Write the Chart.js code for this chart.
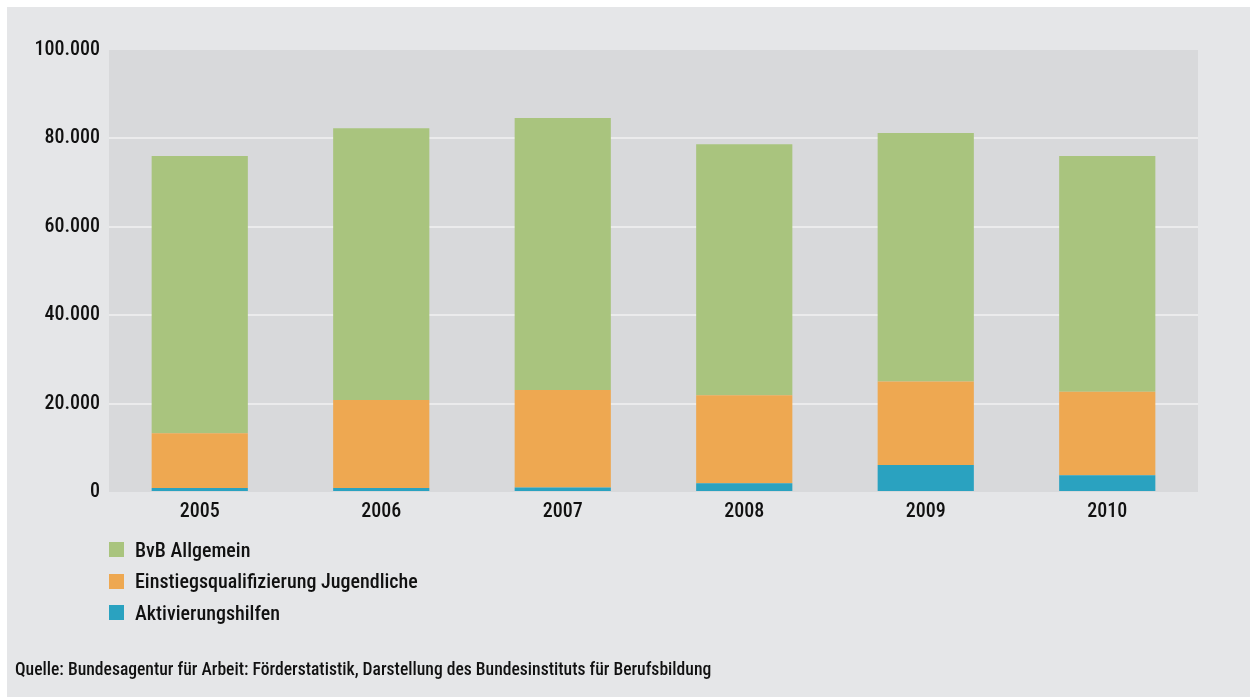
<!DOCTYPE html>
<html><head><meta charset="utf-8">
<script src="https://cdn.jsdelivr.net/npm/chart.js@4.4.1/dist/chart.umd.min.js"></script>
<style>
html,body{margin:0;padding:0;background:#fff;width:1250px;height:697px;overflow:hidden}
#panel{position:absolute;left:7px;top:7px;width:1243px;height:690px;background:#e5e6e8}
#wrap{position:absolute;left:0;top:0;width:1250px;height:697px}
.font{font-family:"Roboto Condensed","Open Sans",sans-serif;font-weight:500;color:#111}
#legend{position:absolute;left:109px;top:534px}
#legend .row{height:31.5px;display:flex;align-items:center;font-size:20px}
#legend .sw{width:15px;height:15px;margin-right:11px}
#source{position:absolute;left:15px;top:659px;font-size:17.6px}
</style></head>
<body>
<div id="panel"></div>
<div id="wrap"><canvas id="c" width="1250" height="697"></canvas></div>
<div id="legend" class="font"></div>
<div id="source" class="font">Quelle: Bundesagentur für Arbeit: Förderstatistik, Darstellung des Bundesinstituts für Berufsbildung</div>
<script>
const categories = ["2005","2006","2007","2008","2009","2010"];
const aktivierungshilfen = [900, 900, 1000, 2000, 6100, 3800];
const einstiegsqualifizierung = [12400, 19900, 22100, 19900, 18900, 18900];
const bvbAllgemein = [62700, 61500, 61500, 56800, 56200, 53300];
const seriesNames = ["BvB Allgemein","Einstiegsqualifizierung Jugendliche","Aktivierungshilfen"];
const yTicks = [0, 20000, 40000, 60000, 80000, 100000];

const colors = {bvb:"#a9c47e", eq:"#eea851", ak:"#2aa2c0"};
const FONT = '"Roboto Condensed","Open Sans",sans-serif';

const bgPlugin = {
  id:"plotbg",
  beforeDraw(chart){
    const {ctx, chartArea:a} = chart;
    ctx.save(); ctx.fillStyle="#d8d9db";
    ctx.fillRect(a.left, a.top, a.right-a.left, a.bottom-a.top);
    ctx.restore();
  }
};

const chart = new Chart(document.getElementById("c"), {
  type:"bar",
  data:{
    labels:categories,
    datasets:[
      {label:seriesNames[2], data:aktivierungshilfen, backgroundColor:colors.ak},
      {label:seriesNames[1], data:einstiegsqualifizierung, backgroundColor:colors.eq},
      {label:seriesNames[0], data:bvbAllgemein, backgroundColor:colors.bvb}
    ]
  },
  options:{
    responsive:false, animation:false,
    layout:{padding:{left:0, top:50, right:52, bottom:175}},
    plugins:{legend:{display:false}, tooltip:{enabled:false}},
    datasets:{bar:{categoryPercentage:0.53, barPercentage:1, borderWidth:0}},
    scales:{
      x:{stacked:true, grid:{display:false}, border:{display:false},
         ticks:{color:"#111", font:{family:FONT, size:20, weight:"500"}, padding:0},
         afterFit(s){s.height=30;}},
      y:{stacked:true, min:0, max:100000, border:{display:false},
         afterBuildTicks(s){s.ticks = yTicks.map(v=>({value:v}));},
         afterFit(s){s.width=109;},
         grid:{color:(c)=> (c.tick && (c.tick.value===0||c.tick.value===100000)) ? "rgba(0,0,0,0)" : "#ebebec", lineWidth:2, drawTicks:false},
         ticks:{color:"#111", font:{family:FONT, size:20, weight:"500"}, padding:9,
           callback:(v)=> v===0 ? "0" : v.toLocaleString("de-DE")}}
    }
  },
  plugins:[bgPlugin]
});

const leg = document.getElementById("legend");
[[seriesNames[0],colors.bvb],[seriesNames[1],colors.eq],[seriesNames[2],colors.ak]].forEach(([n,c])=>{
  const r=document.createElement("div"); r.className="row";
  const s=document.createElement("div"); s.className="sw"; s.style.background=c;
  const t=document.createElement("span"); t.textContent=n;
  r.appendChild(s); r.appendChild(t); leg.appendChild(r);
});
</script>
</body></html>
